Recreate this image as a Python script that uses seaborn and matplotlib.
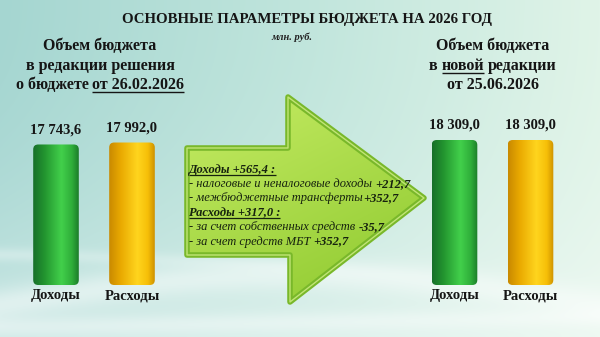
import numpy as np
import pandas as pd
import matplotlib
matplotlib.use("Agg")
import matplotlib.pyplot as plt
import seaborn as sns
from matplotlib.patches import Polygon, FancyBboxPatch
from matplotlib.colors import LinearSegmentedColormap

# ---------------- data ----------------
categories = ["Доходы", "Расходы"]
values_old = [17743.6, 17992.0]
values_new = [18309.0, 18309.0]
title = "ОСНОВНЫЕ ПАРАМЕТРЫ БЮДЖЕТА НА 2026 ГОД"
unit = "млн. руб."
# header runs: (text, underline)
header_old = [[("Объем бюджета", False)],
              [("в редакции решения", False)],
              [("о бюджете ", False), ("от 26.02.2026", True)]]
header_new = [[("Объем бюджета", False)],
              [("в ", False), ("новой", True), (" редакции", False)],
              [("от 25.06.2026", False)]]
# arrow text runs: (text, bold, underline)
arrow_lines = [
    [("Доходы +565,4 :", True, True)],
    [("- налоговые и неналоговые доходы ", False, False), ("+212,7", True, False)],
    [("- межбюджетные трансферты", False, False), ("+352,7", True, False)],
    [("Расходы +317,0 :", True, True)],
    [("- за счет собственных средств ", False, False), ("-35,7", True, False)],
    [("- за счет средств МБТ ", False, False), ("+352,7", True, False)],
]

SERIF = ["Liberation Serif", "DejaVu Serif"]
W, H = 600, 337

sns.set_theme(style="white")
plt.rcParams["font.family"] = SERIF

fig = plt.figure(figsize=(6, 3.37), dpi=100)
renderer = fig.canvas.get_renderer()

# ---------------- background ----------------
ax_bg = fig.add_axes([0, 0, 1, 1], zorder=0)
ax_bg.set_xlim(0, W)
ax_bg.set_ylim(H, 0)
ax_bg.axis("off")

xx, yy = np.meshgrid(np.linspace(0, 1, W), np.linspace(0, 1, H))
left = np.array([165, 214, 209]) / 255
mid = np.array([192, 229, 220]) / 255
right = np.array([224, 244, 232]) / 255
t = xx[..., None]
base = np.where(t < 0.5, left + (mid - left) * (t / 0.5), mid + (right - mid) * ((t - 0.5) / 0.5))
base = base + (1 - base) * (0.45 * yy[..., None] ** 2.2)
px = xx * W
py = yy * H
c1 = 305 - 30 * np.sin(np.pi * px / 600)
band1 = 0.45 * np.exp(-((py - c1) / 16) ** 2)
c2 = 255 + 35 * (px / 600) ** 1.5
band2 = 0.3 * np.exp(-((py - c2) / 7) ** 2) * np.clip(1 - px / 500, 0, 1)
c3 = 328 - 10 * (px / 600)
band3 = 0.35 * np.exp(-((py - c3) / 10) ** 2)
wb = np.clip(band1 + band2 + band3, 0, 1)[..., None]
img = base + (1 - base) * wb
ax_bg.imshow(np.clip(img, 0, 1), extent=(0, W, H, 0), aspect="auto", zorder=0)

# ---------------- helpers ----------------
inv = ax_bg.transData.inverted()


def text_extent(t):
    bb = t.get_window_extent(renderer)
    (x0, _), (x1, _) = inv.transform([[bb.x0, bb.y0], [bb.x1, bb.y1]])
    return x0, x1


def space_width(size, weight, style):
    a = ax_bg.text(0, 0, "x x", fontsize=size, fontweight=weight, fontstyle=style, family=SERIF)
    b = ax_bg.text(0, 0, "xx", fontsize=size, fontweight=weight, fontstyle=style, family=SERIF)
    wa = np.diff(text_extent(a))[0]
    wb_ = np.diff(text_extent(b))[0]
    a.remove(); b.remove()
    return max(wa - wb_, 0.25 * size * 100 / 72)


def draw_runs(x, y, runs, size, color, style="normal", align="left", ul_off=2.0, ul_lw=1.0):
    """runs: list of (text, bold, underline). y is baseline (pixel coords)."""
    items = []
    for txt, bold, ul in runs:
        weight = "bold" if bold else "normal"
        lead = len(txt) - len(txt.lstrip(" "))
        trail = len(txt) - len(txt.rstrip(" "))
        sw = space_width(size, weight, style)
        tt = ax_bg.text(0, y, txt.strip(" "), fontsize=size, fontweight=weight, fontstyle=style,
                        family=SERIF, color=color, va="baseline", ha="left", zorder=5)
        x0, x1 = text_extent(tt)
        items.append([tt, lead * sw, x1 - x0, trail * sw, ul])
    total = sum(i[1] + i[2] + i[3] for i in items)
    cx = x - total / 2 if align == "center" else x
    for tt, lead, w, trail, ul in items:
        cx += lead
        tt.set_x(cx)
        if ul:
            ax_bg.plot([cx, cx + w], [y + ul_off, y + ul_off], color=color, lw=ul_lw,
                       solid_capstyle="butt", zorder=5)
        cx += w + trail


# ---------------- titles ----------------
ax_bg.text(307, 23, title, fontsize=10.7, fontweight="bold", family=SERIF, color="#151515",
           ha="center", va="baseline", zorder=5)
ax_bg.text(292, 40, unit, fontsize=7.5, fontweight="bold", fontstyle="italic", family=SERIF,
           color="#222222", ha="center", va="baseline", zorder=5)

for i, line in enumerate(header_old):
    draw_runs(100, 50 + 19.5 * i, [(t_, True, u) for t_, u in line], 11.5, "#151515",
              align="center", ul_off=3, ul_lw=1.0)
for i, line in enumerate(header_new):
    draw_runs(493, 50 + 19.5 * i, [(t_, True, u) for t_, u in line], 11.5, "#151515",
              align="center", ul_off=3, ul_lw=1.0)

# ---------------- arrow ----------------
arrow_pts = [(187, 148), (288, 148), (288, 97), (424, 198), (290, 302), (290, 255), (187, 255)]
agx, agy = np.meshgrid(np.linspace(0, 1, 240), np.linspace(0, 1, 210))
d = np.clip(0.45 * agx + 0.8 * agy, 0, 1.25) / 1.25
light = np.array([198, 236, 100]) / 255
dark = np.array([140, 200, 45]) / 255
agrad = light + (dark - light) * d[..., None]
fill = Polygon(arrow_pts, closed=True, facecolor="none", edgecolor="none", zorder=2)
ax_bg.add_patch(fill)
im = ax_bg.imshow(agrad, extent=(185, 427, 305, 94), aspect="auto", zorder=2)
im.set_clip_path(fill)
arrow = Polygon(arrow_pts, closed=True, facecolor="none", edgecolor="#79b82a", lw=4,
                joinstyle="round", zorder=3)
ax_bg.add_patch(arrow)
inner = Polygon(arrow_pts, closed=True, facecolor="none", edgecolor="#d4f08a", lw=1.0,
                alpha=0.8, joinstyle="round", zorder=3)
ax_bg.add_patch(inner)
ax_bg.set_xlim(0, W)
ax_bg.set_ylim(H, 0)

for i, line in enumerate(arrow_lines):
    draw_runs(189, 172.5 + 14.4 * i, line, 9, "#16220e", style="italic", ul_off=2, ul_lw=0.9)

# ---------------- bars ----------------
px_per_unit = 76.0
bar_bottom = 285
bar_top_px = 140


def make_bar_axes(center_first, values):
    left_px = center_first - px_per_unit / 2
    width_px = 2 * px_per_unit
    height_px = bar_bottom - bar_top_px
    ax = fig.add_axes([left_px / W, (H - bar_bottom) / H, width_px / W, height_px / H], zorder=2)
    df = pd.DataFrame({"cat": categories, "val": values})
    sns.barplot(data=df, x="cat", y="val", hue="cat", palette=["#2aa637", "#f2bc0a"],
                width=0.6, legend=False, ax=ax)
    ax.set_xlim(-0.5, 1.5)
    ax.set_ylim(0, max(values_old + values_new))
    ax.patch.set_alpha(0)
    sns.despine(ax=ax, left=True, bottom=True)
    ax.set_yticks([])
    ax.set_xlabel("")
    ax.set_ylabel("")
    ax.tick_params(axis="x", length=0, pad=3)
    for lab in ax.get_xticklabels():
        lab.set_fontweight("bold")
        lab.set_fontsize(10.5)
        lab.set_family(SERIF)
        lab.set_color("#151515")
    xs = np.linspace(0, 1, 100)
    profiles = {
        0: [(0.0, "#17702a"), (0.25, "#23952f"), (0.62, "#42d04b"), (0.85, "#2fae3a"), (1.0, "#1c7d2a")],
        1: [(0.0, "#c98a00"), (0.25, "#e9a900"), (0.62, "#ffd51e"), (0.85, "#f6bf08"), (1.0, "#cf9200")],
    }
    p0 = ax.transData.transform([(0, 0), (1, 1)])
    sx = 1 / (p0[1, 0] - p0[0, 0])
    sy = 1 / (p0[1, 1] - p0[0, 1])
    for i, p in enumerate(ax.patches):
        x0, y0 = p.get_x(), p.get_y()
        w, h = p.get_width(), p.get_height()
        cmap = LinearSegmentedColormap.from_list(f"c{i}", profiles[i])
        r = 5 * sx
        fb = FancyBboxPatch((x0, y0), w, h, boxstyle=f"round,pad=0,rounding_size={r}",
                            mutation_aspect=sy / sx, facecolor="none", edgecolor="none",
                            transform=ax.transData)
        ax.add_patch(fb)
        grad = np.tile(xs, (50, 1))
        im_ = ax.imshow(grad, cmap=cmap, extent=(x0, x0 + w, y0, y0 + h), aspect="auto",
                        origin="lower", zorder=3)
        im_.set_clip_path(fb)
        p.set_alpha(0)
        lab = f"{values[i]:,.1f}".replace(",", " ").replace(".", ",")
        ax.annotate(lab, (x0 + w / 2, y0 + h), xytext=(0, 6), textcoords="offset points",
                    ha="center", va="bottom", fontsize=10.5, fontweight="bold", family=SERIF,
                    color="#151515", annotation_clip=False)
    ax.set_xlim(-0.5, 1.5)
    ax.set_ylim(0, max(values_old + values_new))
    return ax


make_bar_axes(56, values_old)
make_bar_axes(454.5, values_new)

fig.savefig("out.png", dpi=100)
